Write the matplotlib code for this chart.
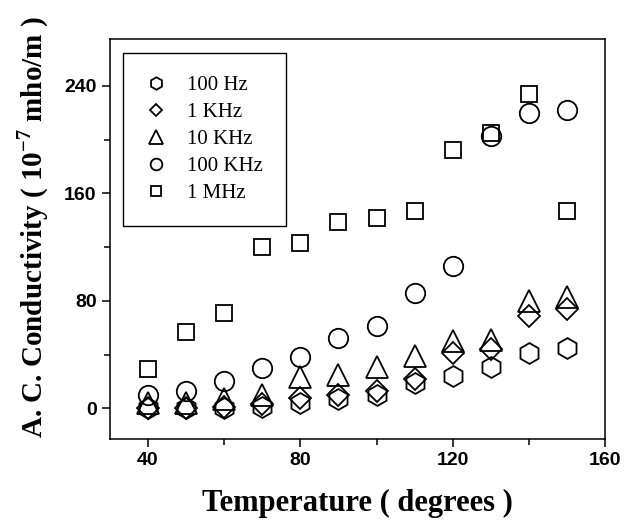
import matplotlib
matplotlib.use("Agg")
import matplotlib.pyplot as plt
from matplotlib.ticker import MultipleLocator

# temperature (degrees) and A.C. conductivity (10^-7 mho/m)
temperature = [40, 50, 60, 70, 80, 90, 100, 110, 120, 130, 140, 150]
hz_100 = [0, 0, 0, 1, 4, 7, 10, 19, 24, 31, 41, 45]
khz_1 = [0, 0, 1, 3, 8, 10, 13, 22, 41, 44, 69, 74]
khz_10 = [4, 4, 7, 10, 23, 25, 31, 39, 50, 51, 80, 83]
khz_100 = [10, 13, 20, 30, 38, 52, 61, 86, 106, 203, 220, 222]
mhz_1 = [29, 57, 71, 120, 123, 139, 142, 147, 192, 205, 234, 147]

labels = ["100 Hz", "1 KHz", "10 KHz", "100 KHz", "1 MHz"]
series = [hz_100, khz_1, khz_10, khz_100, mhz_1]
markers = ["h", "D", "^", "o", "s"]
sizes = [15, 11, 16, 14, 12]

plt.rcParams["mathtext.fontset"] = "custom"
plt.rcParams["mathtext.rm"] = "Liberation Serif"
plt.rcParams["mathtext.bf"] = "Liberation Serif:bold"

fig = plt.figure(figsize=(6.31, 5.26), dpi=100)
ax = fig.add_axes([0.174, 0.165, 0.785, 0.761])

for y, m, s, lab in zip(series, markers, sizes, labels):
    ax.plot(temperature, y, linestyle="none", marker=m, markersize=s,
            markerfacecolor="none", markeredgecolor="black",
            markeredgewidth=1.3, label=lab)

ax.set_xlim(30, 160)
ax.set_ylim(-23, 275)
ax.xaxis.set_major_locator(MultipleLocator(40))
ax.xaxis.set_minor_locator(MultipleLocator(20))
ax.yaxis.set_major_locator(MultipleLocator(80))
ax.yaxis.set_minor_locator(MultipleLocator(40))
ax.tick_params(which="both", direction="out", width=1.1, top=False, right=False)
ax.tick_params(which="major", length=6)
ax.tick_params(which="minor", length=4)
for lbl in ax.get_xticklabels() + ax.get_yticklabels():
    lbl.set_fontfamily("Liberation Sans")
    lbl.set_fontweight("bold")
    lbl.set_fontsize(14)
for sp in ax.spines.values():
    sp.set_linewidth(1.1)

ax.set_xlabel("Temperature ( degrees )", fontfamily="Liberation Serif",
              fontweight="bold", fontsize=22, labelpad=14)
ax.set_ylabel(r"A. C. Conductivity ( 10$^{\mathbf{-7}}$ mho/m )",
              fontfamily="Liberation Serif", fontweight="bold", fontsize=21)
ax.yaxis.set_label_coords(-0.119, 0.53)

leg = ax.legend(loc="upper left", bbox_to_anchor=(0.026, 0.965),
                prop={"family": "Liberation Serif", "size": 15},
                markerscale=0.6, handlelength=1.0, handletextpad=1.0,
                borderpad=1.1, labelspacing=0.35, fancybox=False,
                edgecolor="black", framealpha=1, borderaxespad=0)
leg.get_frame().set_linewidth(1.0)

fig.savefig("out.png", dpi=100)
